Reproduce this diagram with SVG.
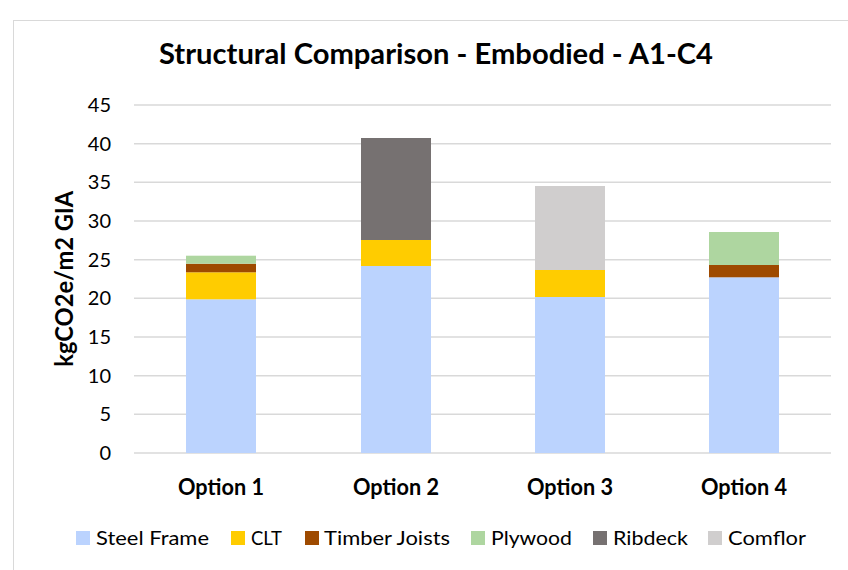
<svg xmlns="http://www.w3.org/2000/svg" width="848" height="570" viewBox="0 0 848 570">
  <style>
    text { font-family: Lato, "Liberation Sans", sans-serif; fill: #000; }
    .title { font-size: 29px; font-weight: bold; }
    .tick { font-size: 20px; text-anchor: end; }
    .cat { font-size: 22px; font-weight: bold; text-anchor: middle; }
    .axis { font-size: 25px; font-weight: bold; text-anchor: middle; }
    .leg { font-size: 20px; }
    .grid { stroke: #D9D9D9; stroke-width: 1.5; }
    .steel { fill: #BBD3FE; }
    .clt { fill: #FFCC00; }
    .timber { fill: #9E4A00; }
    .ply { fill: #AED6A0; }
    .rib { fill: #767171; }
    .com { fill: #D0CECE; }
  </style>

  <rect x="0" y="0" width="848" height="570" fill="#FFFFFF"/>
  <!-- chart frame -->
  <rect x="13.5" y="20.5" width="900" height="600" fill="none" stroke="#D9D9D9" stroke-width="1"/>

  <text class="title" x="159" y="64" textLength="554" lengthAdjust="spacingAndGlyphs">Structural Comparison - Embodied - A1-C4</text>

  <!-- gridlines -->
  <g id="gridlines">
    <line class="grid" x1="134" y1="453" x2="831" y2="453"/>
    <line class="grid" x1="134" y1="414.3" x2="831" y2="414.3"/>
    <line class="grid" x1="134" y1="375.7" x2="831" y2="375.7"/>
    <line class="grid" x1="134" y1="337" x2="831" y2="337"/>
    <line class="grid" x1="134" y1="298.3" x2="831" y2="298.3"/>
    <line class="grid" x1="134" y1="259.7" x2="831" y2="259.7"/>
    <line class="grid" x1="134" y1="221" x2="831" y2="221"/>
    <line class="grid" x1="134" y1="182.3" x2="831" y2="182.3"/>
    <line class="grid" x1="134" y1="143.7" x2="831" y2="143.7"/>
    <line class="grid" x1="134" y1="105" x2="831" y2="105"/>
  </g>

  <!-- y-axis tick labels -->
  <g id="y-ticks">
    <text class="tick" x="111" y="460">0</text>
    <text class="tick" x="111" y="421.3">5</text>
    <text class="tick" x="111" y="382.7">10</text>
    <text class="tick" x="111" y="344">15</text>
    <text class="tick" x="111" y="305.3">20</text>
    <text class="tick" x="111" y="266.7">25</text>
    <text class="tick" x="111" y="228">30</text>
    <text class="tick" x="111" y="189.3">35</text>
    <text class="tick" x="111" y="150.7">40</text>
    <text class="tick" x="111" y="112">45</text>
  </g>

  <text class="axis" transform="rotate(-90)" x="-278.7" y="73" textLength="176" lengthAdjust="spacingAndGlyphs">kgCO2e/m2 GIA</text>

  <!-- stacked bars -->
  <g id="option-1">
    <rect class="steel" x="186" y="299.3" width="70" height="153.7"/>
    <rect class="clt" x="186" y="272.3" width="70" height="27"/>
    <rect class="timber" x="186" y="263.7" width="70" height="8.6"/>
    <rect class="ply" x="186" y="255.7" width="70" height="8"/>
    <text class="cat" x="221" y="495" textLength="86" lengthAdjust="spacingAndGlyphs">Option 1</text>
  </g>
  <g id="option-2">
    <rect class="steel" x="361" y="266" width="70" height="187"/>
    <rect class="clt" x="361" y="240" width="70" height="26"/>
    <rect class="rib" x="361" y="138" width="70" height="102"/>
    <text class="cat" x="396" y="495" textLength="86" lengthAdjust="spacingAndGlyphs">Option 2</text>
  </g>
  <g id="option-3">
    <rect class="steel" x="535" y="297" width="70" height="156"/>
    <rect class="clt" x="535" y="270" width="70" height="27"/>
    <rect class="com" x="535" y="186" width="70" height="84"/>
    <text class="cat" x="570" y="495" textLength="86" lengthAdjust="spacingAndGlyphs">Option 3</text>
  </g>
  <g id="option-4">
    <rect class="steel" x="709" y="277.3" width="70" height="175.7"/>
    <rect class="timber" x="709" y="265" width="70" height="12.3"/>
    <rect class="ply" x="709" y="232" width="70" height="33"/>
    <text class="cat" x="744" y="495" textLength="86" lengthAdjust="spacingAndGlyphs">Option 4</text>
  </g>

  <!-- legend -->
  <g id="legend">
    <rect class="steel" x="76" y="531" width="14" height="14"/>
    <text class="leg" x="96" y="545" textLength="113" lengthAdjust="spacingAndGlyphs">Steel Frame</text>
    <rect class="clt" x="231" y="531" width="14" height="14"/>
    <text class="leg" x="251" y="545" textLength="31" lengthAdjust="spacingAndGlyphs">CLT</text>
    <rect class="timber" x="305" y="531" width="14" height="14"/>
    <text class="leg" x="324" y="545" textLength="126" lengthAdjust="spacingAndGlyphs">Timber Joists</text>
    <rect class="ply" x="471" y="531" width="14" height="14"/>
    <text class="leg" x="491" y="545" textLength="81" lengthAdjust="spacingAndGlyphs">Plywood</text>
    <rect class="rib" x="593" y="531" width="14" height="14"/>
    <text class="leg" x="613" y="545" textLength="75" lengthAdjust="spacingAndGlyphs">Ribdeck</text>
    <rect class="com" x="708" y="531" width="14" height="14"/>
    <text class="leg" x="728" y="545" textLength="78" lengthAdjust="spacingAndGlyphs">Comflor</text>
  </g>
</svg>
